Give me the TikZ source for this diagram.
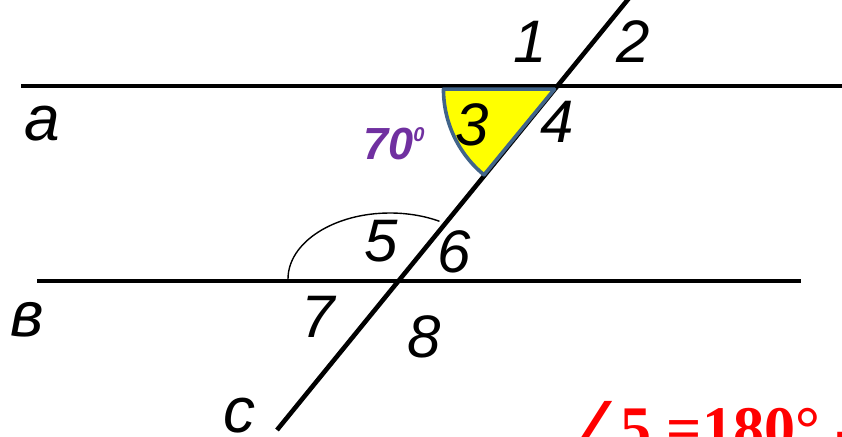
\documentclass[tikz,border=0pt]{standalone}
\usepackage{fontspec}
\setmainfont{Liberation Sans}
\newfontfamily\serifbold{Liberation Serif}
\newfontfamily\symfont{DejaVu Sans}
\usepackage{tikz}
\usetikzlibrary{calc}
\definecolor{sectorfill}{RGB}{255,255,0}
\definecolor{sectoredge}{RGB}{65,100,138}
\definecolor{anglepurple}{RGB}{112,48,160}
\definecolor{textred}{RGB}{255,0,0}

\begin{document}
\begin{tikzpicture}[x=1pt,y=1pt,
    lin/.style={line width=4.6pt},
    lbl/.style={inner sep=0pt,font=\fontsize{60}{60}\selectfont\itshape},
    ltr/.style={inner sep=0pt,font=\fontsize{64}{64}\selectfont\itshape}]
    \useasboundingbox (0,-436) rectangle (842,0);
    % intersection points
    \coordinate (A) at (557,-86);
    \coordinate (B) at (397,-281);
    \coordinate (cbot) at (277,-430);
    \coordinate (ctop) at (634,8);
    \coordinate (S) at ($(A)+(230.6:4)$);
    % parallel lines a, b and the transversal c
    \draw[lin] (21,-86)--(843,-86);
    \draw[lin] (37,-281)--(801,-281);
    \draw[lin] (cbot)--(ctop);
    % angle 5
    \draw[line width=1.4pt] (288,-279) arc[start angle=180,end angle=61,x radius=102,y radius=66];
    % angle 3
    \draw[line width=3.6pt,color=sectoredge,fill=sectorfill,line join=round]
       (S)--++(180:111) arc (180:230.6:111)--cycle;
    \node[lbl] (n1) at (530,-42){1};
    \node[lbl] (n2) at (633,-42){2};
    \node[lbl] (n3) at (472,-125){3};
    \node[lbl] (n4) at (557,-122){4};
    \node[lbl] (n5) at (381,-241){5};
    \node[lbl] (n6) at (454,-252){6};
    \node[lbl] (n7) at (318,-317){7};
    \node[lbl] (n8) at (424,-337){8};
    \node[ltr] (la) at (42,-124){a};
    \node[ltr] (lb) at (27,-320){в};
    \node[ltr] (lc) at (239,-416){c};
    \node[inner sep=0pt,anchor=base west,color=anglepurple,
       font=\fontsize{45}{45}\selectfont\bfseries\itshape] (deg) at (363,-159)
       {70\raisebox{0.4em}{\fontsize{20}{20}\selectfont 0}};
    \node[inner sep=0pt,anchor=base west,color=textred,
       font=\fontsize{62}{62}\selectfont\serifbold\bfseries] (eq) at (568,-449)
       {{\symfont\mdseries\fontsize{66}{66}\selectfont ∠}\kern-7pt 5 =180° -};
\end{tikzpicture}
\end{document}
